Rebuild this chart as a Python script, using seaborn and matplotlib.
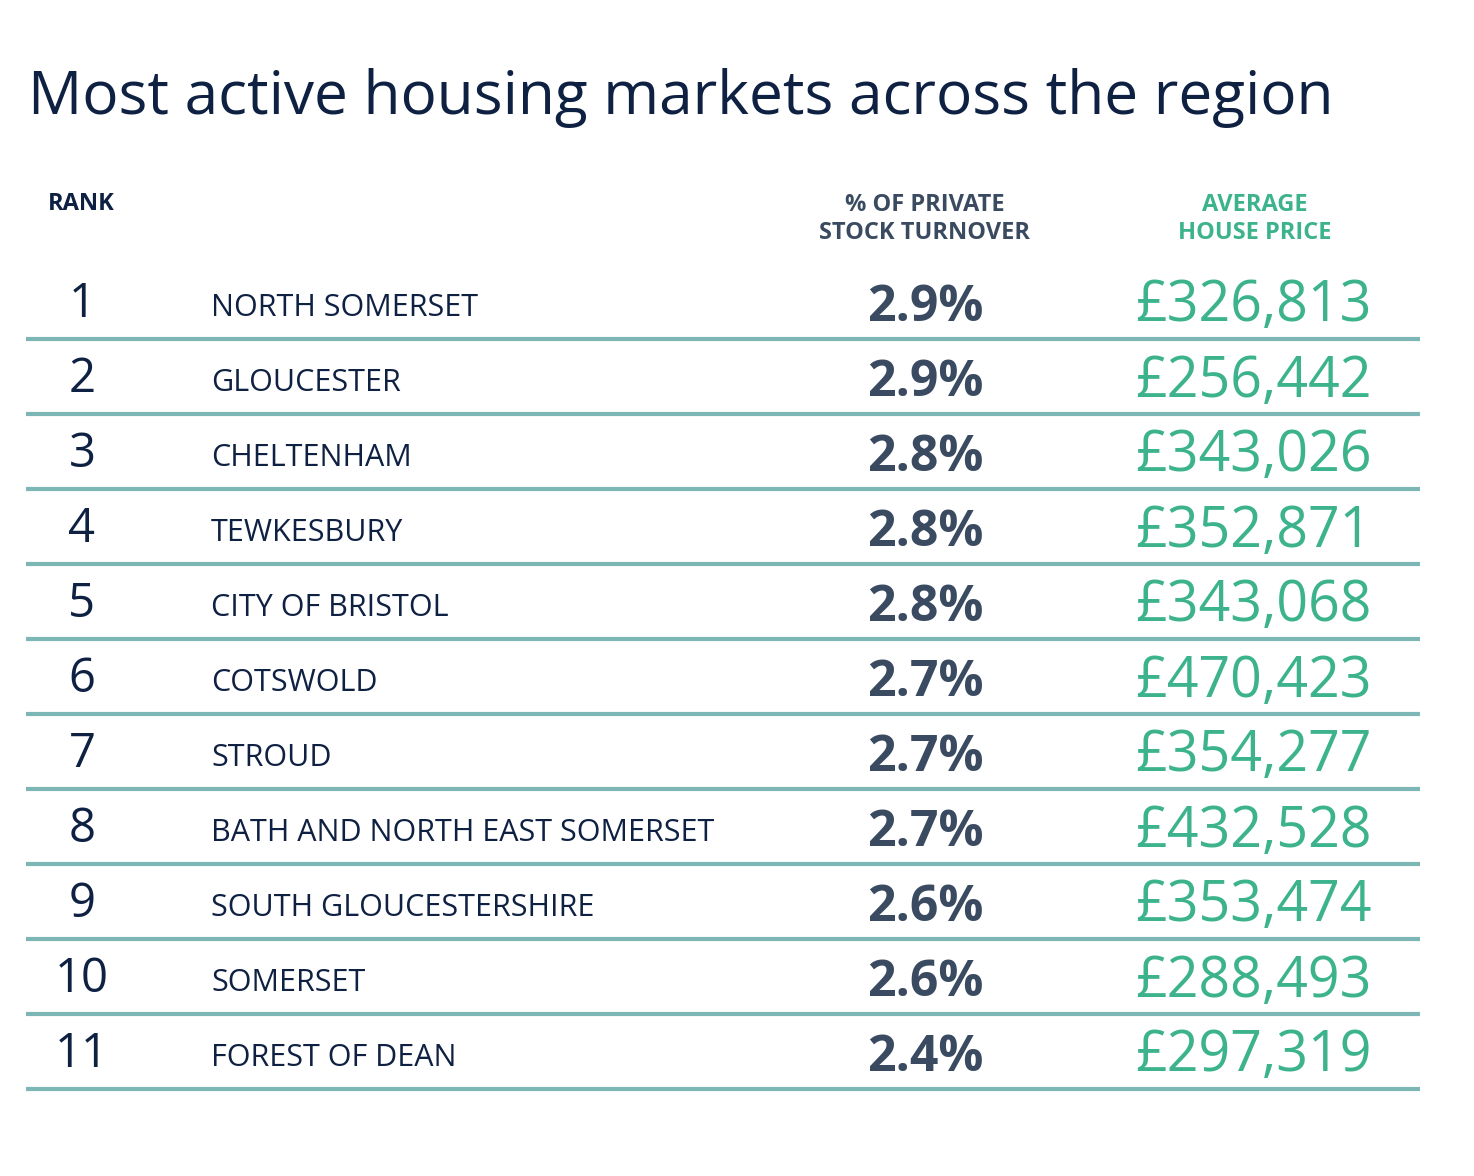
import matplotlib
matplotlib.use("Agg")
import matplotlib.pyplot as plt
import seaborn as sns

# table data
ranks = [1, 2, 3, 4, 5, 6, 7, 8, 9, 10, 11]
areas = ["NORTH SOMERSET", "GLOUCESTER", "CHELTENHAM", "TEWKESBURY", "CITY OF BRISTOL",
         "COTSWOLD", "STROUD", "BATH AND NORTH EAST SOMERSET", "SOUTH GLOUCESTERSHIRE",
         "SOMERSET", "FOREST OF DEAN"]
turnover = [2.9, 2.9, 2.8, 2.8, 2.8, 2.7, 2.7, 2.7, 2.6, 2.6, 2.4]
prices = [326813, 256442, 343026, 352871, 343068, 470423, 354277, 432528, 353474, 288493, 297319]

title = "Most active housing markets across the region"
col_headers = ["RANK", "% OF PRIVATE\nSTOCK TURNOVER", "AVERAGE\nHOUSE PRICE"]

NAVY = "#0f2142"
SLATE = "#3a4b61"
GREEN = "#3cb38c"
RULE = "#7db7b5"

sns.set_style("white")
plt.rcParams["font.family"] = ["Open Sans", "DejaVu Sans"]

W, H = 1474, 1176
fig = plt.figure(figsize=(W / 100, H / 100), dpi=100)
ax = fig.add_axes([0, 0, 1, 1])
ax.set_xlim(0, W)
ax.set_ylim(H, 0)
ax.axis("off")

ax.text(28, 98, title, fontsize=43.5, color=NAVY, fontweight="normal",
        ha="left", va="center")

# column headers
ax.text(48, 204, col_headers[0], fontsize=17, color=NAVY, fontweight="bold",
        ha="left", va="center")
ax.text(925, 219, col_headers[1], fontsize=17, color=SLATE, fontweight="bold",
        ha="center", va="center", linespacing=1.22)
ax.text(1255, 219, col_headers[2], fontsize=17, color=GREEN, fontweight="bold",
        ha="center", va="center", linespacing=1.22)

row0, step = 304, 75
for i, (r, a, t, p) in enumerate(zip(ranks, areas, turnover, prices)):
    y = row0 + i * step
    ax.text(82, y, str(r), fontsize=34, color=NAVY, fontweight="normal",
            ha="center", va="center")
    ax.text(211, y + 4, a, fontsize=22, color=NAVY, ha="left", va="center")
    ax.text(925, y + 4, f"{t:.1f}%", fontsize=36, color=SLATE, fontweight="bold",
            ha="center", va="center")
    ax.text(1253, y + 3, f"£{p:,}", fontsize=40, color=GREEN, ha="center", va="center")

rule_y = [row0 + 35 + i * step for i in range(len(ranks))]
ax.hlines(rule_y, 26, 1420, color=RULE, linewidth=3)

fig.savefig("out.png", dpi=100)
